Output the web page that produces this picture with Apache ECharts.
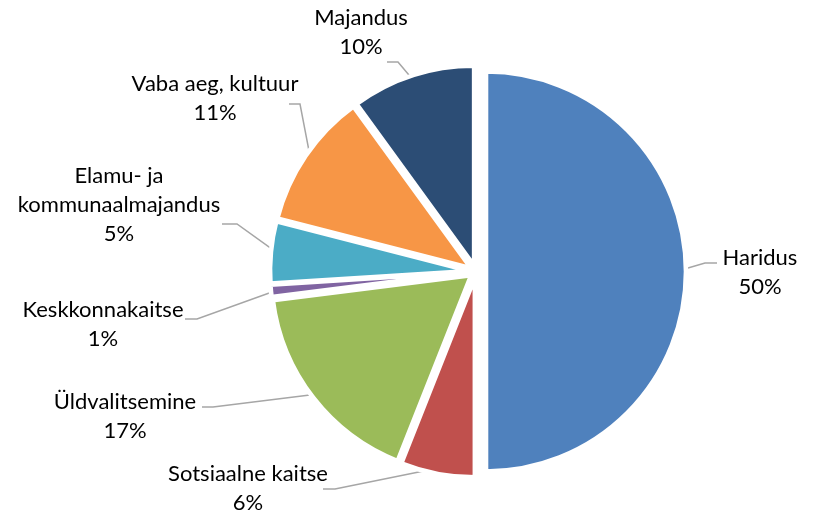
<!DOCTYPE html>
<html>
<head>
<meta charset="utf-8">
<script src="https://cdn.jsdelivr.net/npm/echarts@6/dist/echarts.min.js"></script>
<style>
  html, body { margin: 0; padding: 0; background: #ffffff; }
  #chart { width: 814px; height: 512px; }
</style>
</head>
<body>
<div id="chart"></div>
<script>
// Spending shares by area (percent), clockwise from 12 o'clock
const categories = [
  'Haridus',
  'Sotsiaalne kaitse',
  'Üldvalitsemine',
  'Keskkonnakaitse',
  'Elamu- ja\nkommunaalmajandus',
  'Vaba aeg, kultuur',
  'Majandus'
];
const shares = [50, 6, 17, 1, 5, 11, 10];
const colors = ['#4F81BD', '#C0504D', '#9BBB59', '#8064A2', '#4BACC6', '#F79646', '#2C4D75'];

// Label block centres, by slice index
const labelPos = [
  [760, 272],
  [248, 488],
  [125, 416],
  [103, 324],
  [119, 205],
  [215, 98],
  [361, 32]
];
// Leader line bend and end points, by slice index
const leaderPos = [
  [[705, 263], [717, 263]],
  [[335, 489], [323, 489]],
  [[213, 407], [202, 407]],
  [[197, 319], [185, 319]],
  [[237, 224], [222, 224]],
  [[300, 104], [289, 104]],
  [[398, 62], [387, 62]]
];

const pieCenter = [476, 271.5];
const pieRadius = 200;

const baseSeries = {
  type: 'pie',
  center: pieCenter,
  radius: pieRadius,
  startAngle: 90,
  clockwise: true,
  avoidLabelOverlap: false,
  silent: true,
  animation: false,
  emphasis: { disabled: true }
};

// Slices with a white edge: every slice is pulled out, the first one further than the rest
function sliceSeries(showIdx, offset) {
  return Object.assign({}, baseSeries, {
    z: 3,
    selectedMode: 'multiple',
    selectedOffset: offset,
    itemStyle: { borderColor: '#ffffff', borderWidth: 4.6 },
    select: { disabled: false, itemStyle: { borderColor: '#ffffff', borderWidth: 4.6 } },
    label: { show: false },
    labelLine: { show: false },
    data: categories.map((name, i) => ({
      name: name,
      value: shares[i],
      selected: showIdx(i),
      itemStyle: showIdx(i)
        ? { color: colors[i] }
        : { color: 'rgba(0,0,0,0)', borderWidth: 0 },
      select: showIdx(i) ? undefined : { itemStyle: { borderWidth: 0 } }
    }))
  });
}

// Labels with leader lines, carried by an invisible pie underneath the slices
const labelSeries = Object.assign({}, baseSeries, {
  z: 1,
  itemStyle: { borderWidth: 0 },
  label: {
    show: true,
    position: 'outside',
    color: '#000000',
    fontFamily: 'Lato',
    fontSize: 22,
    lineHeight: 29,
    align: 'center',
    formatter: p => p.name + '\n' + p.value + '%'
  },
  labelLine: {
    show: true,
    lineStyle: { color: '#A6A6A6', width: 1.5 }
  },
  labelLayout: params => {
    const i = params.dataIndex;
    const pos = labelPos[i];
    const lead = leaderPos[i];
    const start = params.labelLinePoints ? params.labelLinePoints[0] : lead[0];
    return {
      x: pos[0],
      y: pos[1],
      align: 'center',
      verticalAlign: 'middle',
      labelLinePoints: [start, lead[0], lead[1]]
    };
  },
  data: categories.map((name, i) => ({
    name: name,
    value: shares[i],
    itemStyle: { color: 'rgba(0,0,0,0)' }
  }))
});

const chart = echarts.init(document.getElementById('chart'), null, { renderer: 'canvas' });
chart.setOption({
  backgroundColor: '#ffffff',
  animation: false,
  series: [
    labelSeries,
    sliceSeries(i => i !== 0, 6),
    sliceSeries(i => i === 0, 10)
  ]
});
</script>
</body>
</html>
